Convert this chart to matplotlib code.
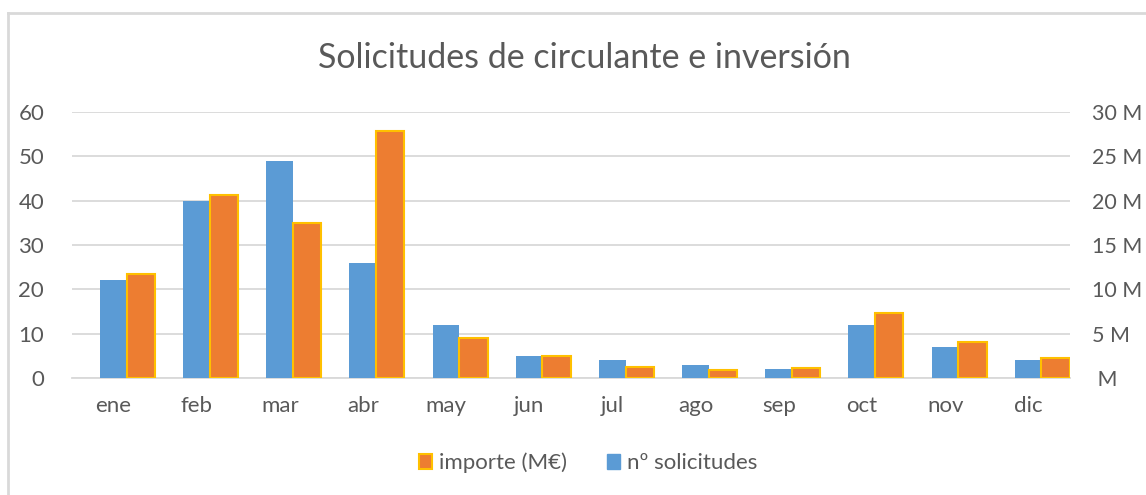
import matplotlib
matplotlib.use("Agg")
import matplotlib.pyplot as plt
import numpy as np
from matplotlib.patches import Patch

months = ["ene", "feb", "mar", "abr", "may", "jun", "jul", "ago", "sep", "oct", "nov", "dic"]
solicitudes = [22, 40, 49, 26, 12, 5, 4, 3, 2, 12, 7, 4]
importe_M = [11.7, 20.6, 17.5, 27.9, 4.5, 2.5, 1.2, 0.95, 1.1, 7.3, 4.1, 2.2]
left_ticks = [0, 10, 20, 30, 40, 50, 60]
right_ticks = [0, 5, 10, 15, 20, 25, 30]
right_labels = [" M", "5 M", "10 M", "15 M", "20 M", "25 M", "30 M"]

BLUE = "#5B9BD5"
ORANGE = "#ED7D31"
GOLD = "#FFC000"
GRID = "#D9D9D9"
TXT = "#595959"
FONT = ["Lato", "DejaVu Sans"]

plt.rcParams["font.family"] = FONT

fig = plt.figure(figsize=(11.46, 4.95), dpi=100)
ax = fig.add_axes([72 / 1146, 1 - 378 / 495, (1070 - 72) / 1146, (378 - 112) / 495])
ax2 = ax.twinx()

x = np.arange(len(months))
ax.bar(x - 0.164, solicitudes, width=0.321, align="edge", color=BLUE, zorder=3)
ax2.bar(x + 0.157, importe_M, width=0.34, align="edge", color=ORANGE,
        edgecolor=GOLD, linewidth=1.5, zorder=3)

ax.set_xlim(-0.5, 11.5)
ax.set_ylim(0, 60)
ax2.set_ylim(0, 30)
ax.set_yticks(left_ticks)
ax.set_yticklabels([str(t) for t in left_ticks])
ax2.set_yticks(right_ticks)
ax2.set_yticklabels(right_labels, ha="left")
ax.set_xticks(x)
ax.set_xticklabels(months)

ax.grid(axis="y", color=GRID, linewidth=1.3, zorder=0)
ax.set_axisbelow(True)
for a in (ax, ax2):
    for s in a.spines.values():
        s.set_visible(False)
    a.tick_params(length=0, colors=TXT, labelsize=16)
ax.tick_params(axis="y", pad=20)
ax.tick_params(axis="x", pad=13)
ax2.tick_params(axis="y", pad=16, labelsize=15.5)
ax.spines["bottom"].set_visible(True)
ax.spines["bottom"].set_color(GRID)
ax.spines["bottom"].set_linewidth(1.3)

fig.text(584 / 1146, 1 - 58 / 495, "Solicitudes de circulante e inversión",
         ha="center", va="center", fontsize=24.5, color=TXT)

handles = [Patch(facecolor=ORANGE, edgecolor=GOLD, linewidth=1.5, label="importe (M€)"),
           Patch(facecolor=BLUE, edgecolor=BLUE, label="nº solicitudes")]
fig.legend(handles=handles, loc="center", bbox_to_anchor=(588 / 1146, 1 - 463 / 495),
           ncol=2, frameon=False, fontsize=16, labelcolor=TXT, handlelength=0.6,
           handleheight=0.6, handletextpad=0.3, columnspacing=1.8)

# chart border
fig.add_artist(plt.Line2D([8 / 1146, 8 / 1146], [0, 1 - 13 / 495], color=GRID, linewidth=2,
                          transform=fig.transFigure))
fig.add_artist(plt.Line2D([8 / 1146, 1], [1 - 13 / 495, 1 - 13 / 495], color=GRID, linewidth=2,
                          transform=fig.transFigure))

fig.savefig("out.png", dpi=100, facecolor="white")
